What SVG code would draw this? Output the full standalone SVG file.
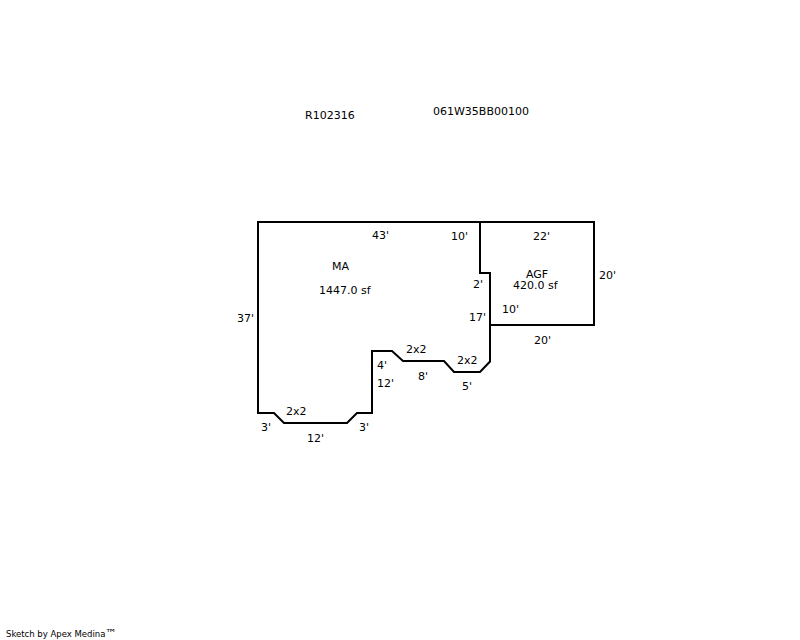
<svg xmlns="http://www.w3.org/2000/svg" width="800" height="640" viewBox="0 0 800 640">
<style>
.o{fill:none;stroke:#000;stroke-width:2;stroke-linejoin:miter;stroke-linecap:square}
text{font-family:"DejaVu Sans",Verdana,sans-serif;font-size:11px;fill:#000}
</style>
<rect width="800" height="640" fill="#fff"/>
<g id="ma-outline"><path class="o" d="M258 222H480V273H490V361.500L480 372H454L444 361H403L392 351H372V413H357L347 423H284L274 413H258Z"/></g>
<g id="agf-outline"><path class="o" d="M480 222H594V325H490"/></g>
<g id="labels">
<text x="305" y="119">R102316</text>
<text x="433" y="115">061W35BB00100</text>
<text x="372" y="239">43'</text>
<text x="451" y="240">10'</text>
<text x="533" y="240">22'</text>
<text x="332" y="270">MA</text>
<text x="319" y="294">1447.0 sf</text>
<text x="526" y="278">AGF</text>
<text x="513" y="289">420.0 sf</text>
<text x="599" y="279">20'</text>
<text x="473" y="288">2'</text>
<text x="237" y="322">37'</text>
<text x="469" y="321">17'</text>
<text x="502" y="313">10'</text>
<text x="534" y="344">20'</text>
<text x="406" y="353">2x2</text>
<text x="457" y="364">2x2</text>
<text x="377" y="369">4'</text>
<text x="377" y="387">12'</text>
<text x="418" y="380">8'</text>
<text x="462" y="390">5'</text>
<text x="286" y="415">2x2</text>
<text x="261" y="431">3'</text>
<text x="359" y="431">3'</text>
<text x="307" y="442">12'</text>
<text x="6" y="637" style="font-size:8.500px">Sketch by Apex Medina<tspan style="font-size:11px">™</tspan></text>
</g>
</svg>
